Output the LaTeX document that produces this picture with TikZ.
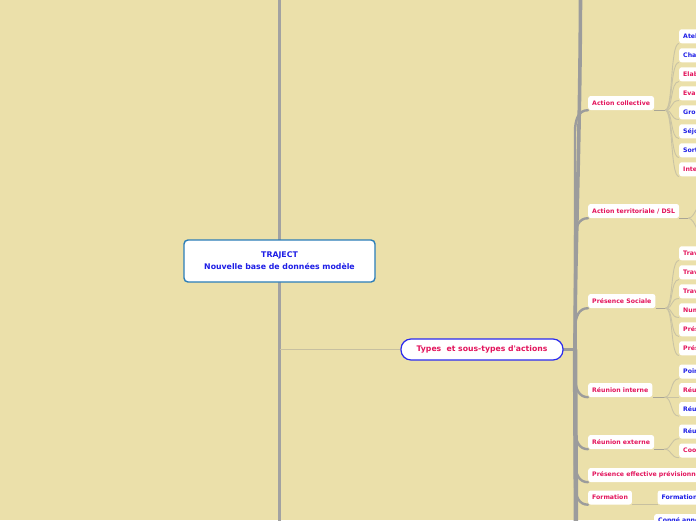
\documentclass[tikz,border=0pt]{standalone}
\usepackage{fontspec}
\newfontfamily\dvs{DejaVu Sans}
\usetikzlibrary{calc}
\pgfdeclarelayer{bg}
\pgfsetlayers{bg,main}
\definecolor{bgc}{RGB}{235,224,170}
\definecolor{crim}{RGB}{227,20,92}
\definecolor{blu}{RGB}{30,30,230}
\definecolor{rootb}{RGB}{43,125,184}
\definecolor{typesb}{RGB}{42,42,238}
\definecolor{leftl}{RGB}{162,162,162}
\definecolor{brg}{RGB}{156,156,156}
\definecolor{thinl}{RGB}{199,192,160}
\definecolor{ulg}{RGB}{169,165,150}
\definecolor{fang}{RGB}{201,195,164}
\newcommand\brup[1]{\draw[br] (hub) -- ($(hub |- #1.south west)+(0,22)$) .. controls +(0,-14) and +(-9,0) .. (#1.south west);}
\newcommand\brdn[1]{\draw[br] (hub) -- ($(hub |- #1.south west)+(0,-22)$) .. controls +(0,14) and +(-9,0) .. (#1.south west);}
\newcommand\fanto[2]{\draw[fanl] (#1) .. controls +(8,0) and +(-9,0) .. (#2.south west);}
\begin{document}
\begin{tikzpicture}[x=1pt,y=-1pt,
  root/.style={draw=rootb, line width=1.4pt, fill=white, rounded corners=4pt,
    minimum width=191pt, minimum height=42pt, align=center, text=blu,
    font=\dvs\fontsize{7.8}{12}\selectfont\bfseries},
  topic/.style={draw=typesb, line width=1.2pt, fill=white, rounded corners=10pt,
    minimum width=162pt, minimum height=21pt, text=crim,
    font=\dvs\fontsize{7.7}{9}\selectfont\bfseries},
  l1/.style={fill=white, rounded corners=2.5pt, minimum height=14pt, inner xsep=4pt,
    inner ysep=0pt, anchor=west, text=crim, font=\dvs\fontsize{6.2}{7}\selectfont\bfseries},
  l2/.style={l1, text width=60pt, align=left},
  l2b/.style={l2, text=blu},
  br/.style={draw=brg, line width=2.4pt, line cap=round},
  trunk/.style={draw=brg, line width=3.6pt},
  ul/.style={draw=ulg, line width=1.4pt},
  fanl/.style={draw=fang, line width=0.9pt},
  thin/.style={draw=thinl, line width=1pt},
  leftline/.style={draw=leftl, line width=3pt}]
\begin{pgfonlayer}{bg}
\fill[bgc] (0,0) rectangle (696,520);
\end{pgfonlayer}
\useasboundingbox (0,0) rectangle (696,520);
\coordinate (ltop) at (279.5,-2);
\coordinate (lbot) at (279.5,522);
\coordinate (hub) at (575,349.5);
\coordinate (ttop) at (580.5,-4);
\coordinate (tbot) at (576,524);
% nodes
\node[root] (traject) at (279.5,261) {TRAJECT\\Nouvelle base de données modèle};
\node[topic] (types) at (482,349.5) {Types\ \ et sous-types d'actions};
\node[l1] (ac) at (588,103) {Action collective};
\node[l1] (at) at (588,211) {Action territoriale / DSL};
\node[l1] (ps) at (588,301) {Présence Sociale};
\node[l1] (ri) at (588,390) {Réunion interne};
\node[l1] (re) at (588,442) {Réunion externe};
\node[l1] (pe) at (588,475) {Présence effective prévisionne};
\node[l1] (fo) at (588,497.5) {Formation};
% level 2
\node[l2b] (ac1) at (679,36.3) {Atel};
\node[l2b] (ac2) at (679,55.3) {Cha};
\node[l2]  (ac3) at (679,74.3) {Elab};
\node[l2]  (ac4) at (679,93.3) {Eval};
\node[l2b] (ac5) at (679,112.3) {Gro};
\node[l2b] (ac6) at (679,131.3) {Séjo};
\node[l2b] (ac7) at (679,150.3) {Sort};
\node[l2]  (ac8) at (679,169.3) {Inte};
\node[l2] (ps1) at (679,253.3) {Trav};
\node[l2] (ps2) at (679,272.3) {Trav};
\node[l2] (ps3) at (679,291.3) {Trav};
\node[l2] (ps4) at (679,310.3) {Num};
\node[l2] (ps5) at (679,329.3) {Prés};
\node[l2] (ps6) at (679,348.3) {Prés};
\node[l2b] (ri1) at (679,371.5) {Poin};
\node[l2]  (ri2) at (679,390) {Réu};
\node[l2b] (ri3) at (679,409) {Réu};
\node[l2b] (re1) at (679,431.5) {Réu};
\node[l2]  (re2) at (679,450.5) {Coo};
\node[l2b] (fo1) at (657.5,497.5) {Formation};
\node[l2b] (cg1) at (654,521) {Congé anne};
\coordinate (atc1) at (710,196);
\coordinate (atc2) at (710,242);
% connectors
\begin{pgfonlayer}{bg}
\draw[leftline] (ltop) -- (lbot);
\draw[thin] (ltop |- types.west) -- (types.west);
\draw[trunk] (ttop) .. controls (580,150) and (575,250) .. (hub);
\draw[trunk, line width=4.5pt] (hub) -- (tbot);
\draw[br] (types.east) -- (hub);
\brup{ac}
\brup{at}
\brup{ps}
\brdn{ri}
\brdn{re}
\brdn{pe}
\brdn{fo}
\coordinate (jac) at ($(ac.south east)+(11,0)$);
\coordinate (jat) at ($(at.south east)+(9,0)$);
\coordinate (jps) at ($(ps.south east)+(10,0)$);
\coordinate (jri) at ($(ri.south east)+(12,0)$);
\coordinate (jre) at ($(re.south east)+(10,0)$);
\draw[ul] (ac.south east) -- (jac);
\draw[ul] (at.south east) -- (jat);
\draw[ul] (ps.south east) -- (jps);
\draw[ul] (ri.south east) -- (jri);
\draw[ul] (re.south east) -- (jre);
\draw[ul, draw=thinl] (fo.south east) -- (fo1.south west);
\foreach \c in {ac1,ac2,ac3,ac4,ac5,ac6,ac7,ac8} {\fanto{jac}{\c}}
\foreach \c in {ps1,ps2,ps3,ps4,ps5,ps6} {\fanto{jps}{\c}}
\foreach \c in {ri1,ri2,ri3} {\fanto{jri}{\c}}
\foreach \c in {re1,re2} {\fanto{jre}{\c}}
\draw[fanl] (jat) .. controls +(8,0) and +(-12,0) .. (atc1);
\draw[fanl] (jat) .. controls +(8,0) and +(-12,0) .. (atc2);
\end{pgfonlayer}
\end{tikzpicture}
\end{document}
